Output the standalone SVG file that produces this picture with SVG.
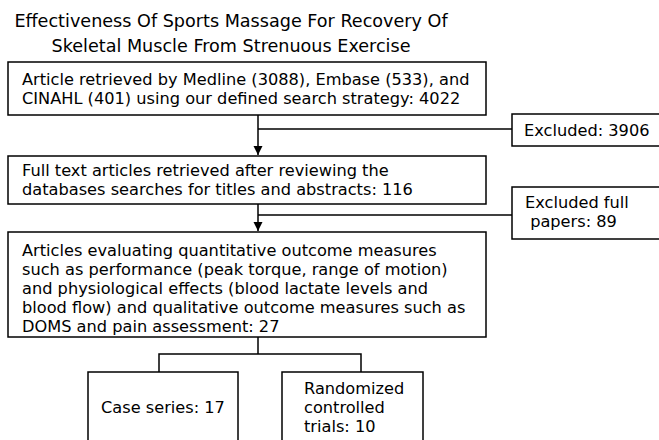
<svg xmlns="http://www.w3.org/2000/svg" width="659" height="440" viewBox="0 0 659 440">
<defs>
<marker id="arr" markerWidth="10" markerHeight="10" refX="9" refY="5" orient="auto" markerUnits="userSpaceOnUse">
<path d="M0,0.5 L9,5 L0,9.5 Z" fill="#000"/>
</marker>
<style>
.box{fill:#fff;stroke:#000;stroke-width:1.5}
.t{font-family:"DejaVu Sans",Verdana,sans-serif;font-size:16.2px;fill:#000}
.title{font-family:"DejaVu Sans",Verdana,sans-serif;font-size:17.6px;fill:#000;text-anchor:middle}
.c{fill:none;stroke:#000;stroke-width:1.5}
</style>
</defs>
<rect width="659" height="440" fill="#fff"/>
<g id="title">
<text class="title" x="231" y="27">Effectiveness Of Sports Massage For Recovery Of</text>
<text class="title" x="231" y="52">Skeletal Muscle From Strenuous Exercise</text>
</g>
<g id="connectors">
<path class="c" d="M258,115 V155" marker-end="url(#arr)"/>
<path class="c" d="M258,129 H512"/>
<path class="c" d="M258,204 V231" marker-end="url(#arr)"/>
<path class="c" d="M258,215 H512"/>
<path class="c" d="M258,337 V354 M159,372 V354 H361 V372"/>
</g>
<g id="n1">
<rect class="box" x="8" y="62" width="478" height="53"/>
<text class="t" x="22" y="85">Article retrieved by Medline (3088), Embase (533), and</text>
<text class="t" x="22" y="104">CINAHL (401) using our defined search strategy: 4022</text>
</g>
<g id="excl1">
<rect class="box" x="512" y="114" width="160" height="32"/>
<text class="t" x="524" y="136">Excluded: 3906</text>
</g>
<g id="n2">
<rect class="box" x="8" y="156" width="478" height="48"/>
<text class="t" x="22" y="176">Full text articles retrieved after reviewing the</text>
<text class="t" x="22" y="195">databases searches for titles and abstracts: 116</text>
</g>
<g id="excl2">
<rect class="box" x="512" y="187" width="160" height="52"/>
<text class="t" x="525" y="208">Excluded full</text>
<text class="t" x="525" y="227" xml:space="preserve"> papers: 89</text>
</g>
<g id="n3">
<rect class="box" x="8" y="232" width="478" height="105"/>
<text class="t" x="22" y="256">Articles evaluating quantitative outcome measures</text>
<text class="t" x="22" y="275">such as performance (peak torque, range of motion)</text>
<text class="t" x="22" y="294">and physiological effects (blood lactate levels and</text>
<text class="t" x="22" y="313">blood flow) and qualitative outcome measures such as</text>
<text class="t" x="22" y="332">DOMS and pain assessment: 27</text>
</g>
<g id="n4">
<rect class="box" x="88" y="372" width="150" height="80"/>
<text class="t" x="101" y="413">Case series: 17</text>
</g>
<g id="n5">
<rect class="box" x="282" y="372" width="141" height="80"/>
<text class="t" x="304" y="394">Randomized</text>
<text class="t" x="304" y="413">controlled</text>
<text class="t" x="304" y="432">trials: 10</text>
</g>
</svg>
